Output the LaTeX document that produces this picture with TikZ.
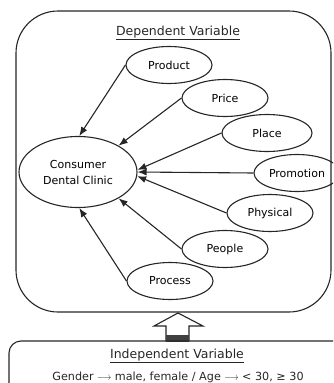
\documentclass[tikz,border=0pt]{standalone}
\usepackage{fontspec}
\usepackage{graphicx}
\setmainfont{DejaVu Sans}
\usetikzlibrary{shapes.geometric,arrows.meta}
\tikzset{
  ln/.style={line width=1.1pt, draw=black!85},
  oval/.style={ellipse, ln, inner sep=0pt, minimum width=86pt, minimum height=37pt, font=\fontsize{11}{13}\selectfont},
  link/.style={ln, -{Latex[length=9pt,width=7pt]}},
  lbl/.style={font=\fontsize{12.5}{14}\selectfont, inner sep=0pt, text=black!85}
}
\newcommand{\shortarr}{\scalebox{0.8}[1]{$\longrightarrow$}}
\begin{document}
\begin{tikzpicture}[x=1pt,y=-1pt]
\useasboundingbox (0,0) rectangle (333,383);
\clip (0,0) rectangle (333,383);
% frame of the dependent variables
\draw[ln, rounded corners=42pt] (16,11) rectangle (331,312);
\node[lbl] (dv) at (178,33) {\underline{Dependent Variable}};
% central construct
\node[ellipse, ln, inner sep=0pt, minimum width=118pt, minimum height=71pt, align=center,
      font=\fontsize{11}{16}\selectfont] (c) at (78,172) {Consumer\\Dental Clinic};
% the seven Ps
\node[oval] (prod)  at (169,65)  {Product};
\node[oval] (price) at (225,98)  {Price};
\node[oval, minimum width=90pt] (place) at (267,133) {Place};
\node[oval] (promo) at (297,173) {Promotion};
\node[oval] (phys)  at (270,213) {Physical};
\node[oval] (peop)  at (225,249) {People};
\node[oval] (proc)  at (170,281) {Process};
% influences
\draw[link] (prod.west)  -- (c.88);
\draw[link] (price.west) -- (c.33);
\draw[link] (place.west) -- (c.2);
\draw[link] (promo.west) -- (c.east);
\draw[link] (phys.west)  -- (c.-4);
\draw[link] (peop.west)  -- (c.-33);
\draw[link] (proc.west)  -- (c.-88);
% hollow block arrow
\draw[ln, fill=white] (166,341) -- (166,326) -- (154,326) -- (178,313) -- (203,326) -- (189,326) -- (189,341);
\fill[black!75] (166,335) rectangle (189,342);
% frame of the independent variables
\draw[ln, rounded corners=12pt] (9,400) -- (9,341) -- (345,341);
\node[lbl] (iv) at (177,356) {\underline{Independent Variable}};
\node[lbl, font=\fontsize{11.2}{13}\selectfont] (gv) at (178,377)
  {Gender \shortarr{} male, female / Age \shortarr{} < 30, ≥ 30};
\end{tikzpicture}
\end{document}
